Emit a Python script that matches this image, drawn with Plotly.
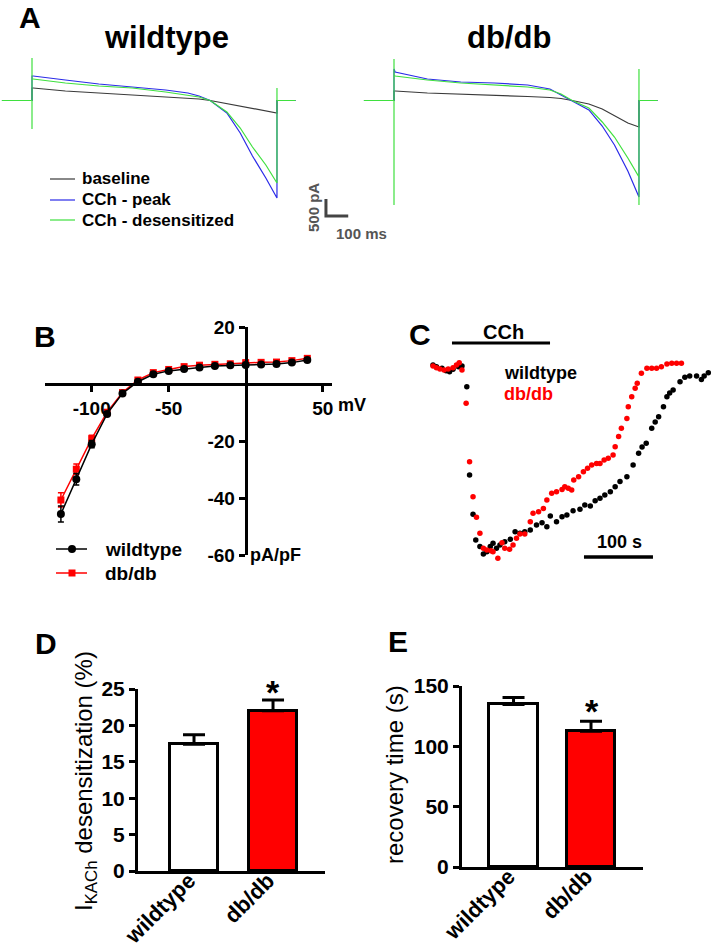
import plotly.graph_objects as go

W, H = 712, 948
FONT = "Arial, Liberation Sans, sans-serif"

# ---------------- Panel A: current traces (ms, pA) ----------------
t_ramp_ms = [0, 5, 150, 300, 450, 600, 700, 750, 800, 875, 935, 990, 1050, 1100]
wt_baseline = [368, 368, 279, 221, 162, 103, 74, 44, 0, -88, -162, -235, -309, -368]
wt_peak = [720, 720, 603, 485, 397, 309, 221, 132, 0, -368, -956, -1632, -2279, -2868]
wt_desens = [632, 632, 515, 426, 368, 250, 162, 103, 0, -338, -809, -1368, -1897, -2426]
db_baseline = [279, 279, 221, 191, 162, 118, 88, 59, 0, -103, -250, -456, -662, -779]
db_peak = [926, 838, 632, 544, 515, 456, 338, 162, 0, -279, -750, -1309, -2074, -2838]
db_desens = [750, 720, 603, 515, 456, 397, 309, 191, 0, -221, -632, -1074, -1691, -2250]
hold_pre_ms = -135
hold_post_ms = 1183
wt_on_spike = [1250, -838]
wt_off_spike = [368]
db_on_spike = [1220, -3074]
db_off_spike = [-3074, 926]
scale_ms = 100
scale_pA = 500

# ---------------- Panel B: I-V (mV, pA/pF) ----------------
V_mV = [-120, -110, -100, -90, -80, -70, -60, -50, -40, -30, -20, -10, 0, 10, 20, 30, 40]
iv_wt = [-45.6, -33.4, -21.1, -10.5, -3.3, 0.8, 3.4, 4.6, 5.3, 5.8, 6.3, 6.6, 6.7, 6.8, 7.0, 7.5, 8.4]
iv_wt_err = [2.8, 2.0, 1.3, 0.8, 0.5, 0.4, 0.4, 0.4, 0.4, 0.4, 0.4, 0.4, 0.4, 0.4, 0.4, 0.4, 0.5]
iv_db = [-40.7, -29.9, -19.2, -9.9, -3.0, 1.4, 4.0, 5.1, 6.1, 6.6, 6.9, 7.1, 7.5, 7.6, 7.7, 8.2, 9.0]
iv_db_err = [2.5, 1.8, 1.2, 0.8, 0.5, 0.5, 0.5, 0.5, 0.5, 0.5, 0.5, 0.5, 0.5, 0.5, 0.5, 0.5, 0.5]

# ---------------- Panel C: time course (s, normalized current) ----------------
c_wt_t = [0, 5, 13, 19, 24, 29, 37, 42, 49, 53, 58, 62, 68, 73, 78, 83, 87, 92, 97, 104,
          112, 119, 126, 133, 141, 150, 158, 165, 170, 179, 187, 194, 203, 213, 220, 228,
          235, 242, 249, 257, 264, 271, 281, 290, 298, 303, 309, 317, 322, 327, 334, 339,
          343, 348, 358, 365, 372, 382, 389, 393, 399]
c_wt_v = [0.005, -0.004, -0.012, -0.024, -0.029, -0.017, -0.004, 0.0, -0.107, -0.562,
          -0.764, -0.897, -0.931, -0.969, -0.957, -0.931, -0.914, -0.940, -0.923, -0.906,
          -0.893, -0.854, -0.862, -0.854, -0.845, -0.820, -0.808, -0.828, -0.773, -0.803,
          -0.777, -0.768, -0.746, -0.739, -0.716, -0.722, -0.694, -0.682, -0.665, -0.648,
          -0.622, -0.596, -0.571, -0.510, -0.450, -0.418, -0.398, -0.321, -0.289, -0.261,
          -0.210, -0.158, -0.139, -0.124, -0.081, -0.058, -0.052, -0.052, -0.069, -0.052,
          -0.035]
c_db_t = [0, 5, 10, 16, 22, 29, 34, 38, 42, 48, 53, 58, 63, 68, 73, 78, 84, 87, 94, 100,
          104, 111, 116, 121, 126, 133, 141, 145, 153, 160, 165, 172, 179, 187, 191, 196,
          201, 204, 211, 218, 224, 230, 237, 242, 248, 254, 261, 264, 269, 273, 281, 283,
          288, 293, 296, 302, 310, 317, 324, 331, 339, 346, 353, 360]
c_db_v = [0.0, -0.009, -0.015, -0.021, -0.015, -0.009, 0.005, 0.017, -0.021, -0.192,
          -0.493, -0.674, -0.780, -0.862, -0.940, -0.948, -0.952, -0.957, -0.991, -0.911,
          -0.940, -0.945, -0.923, -0.888, -0.866, -0.866, -0.803, -0.759, -0.751, -0.734,
          -0.691, -0.656, -0.648, -0.636, -0.622, -0.630, -0.639, -0.588, -0.571, -0.545,
          -0.527, -0.510, -0.502, -0.502, -0.485, -0.476, -0.459, -0.416, -0.364, -0.321,
          -0.270, -0.210, -0.158, -0.115, -0.089, -0.038, -0.012, -0.012, -0.012, -0.004,
          0.010, 0.014, 0.014, 0.014]
cch_on_s = [27.5, 169.6]
scale_s = 100

# ---------------- Panels D, E: bars ----------------
groups = ["wildtype", "db/db"]
desens_pct = [17.4, 22.0]
desens_err = [1.3, 1.5]
recovery_s = [134.7, 112.4]
recovery_err = [5.8, 8.3]


def dx(a, b):
    return [a / W, b / W]


def dy(top, bottom):
    return [1 - bottom / H, 1 - top / H]


def ann(text, x, y, size, bold=True, color="black", xanchor="center",
        yanchor="middle", angle=0):
    return dict(text=f"<b>{text}</b>" if bold else text, x=x / W, y=1 - y / H,
                xref="paper", yref="paper", showarrow=False,
                font=dict(size=size, color=color, family=FONT),
                xanchor=xanchor, yanchor=yanchor, textangle=angle)


fig = go.Figure()

BLACK_TR = "#3a3a3a"
BLUE_TR = "#2b2be8"
GREEN_TR = "#3fe03f"


def trace_path(vals, on=None, off=None):
    xs = [hold_pre_ms, 0]
    ys = [0, 0]
    if on:
        xs += [0] * len(on)
        ys += list(on)
    xs += t_ramp_ms
    ys += vals
    end = t_ramp_ms[-1]
    if off:
        xs += [end] * len(off)
        ys += list(off)
    xs += [end, hold_post_ms]
    ys += [0, 0]
    return xs, ys


for ax, (b, p, d, on, off) in zip(
        ["", "2"],
        [(wt_baseline, wt_peak, wt_desens, wt_on_spike, wt_off_spike),
         (db_baseline, db_peak, db_desens, db_on_spike, db_off_spike)]):
    for vals, col, sp in [(b, BLACK_TR, False), (p, BLUE_TR, False), (d, GREEN_TR, True)]:
        xs, ys = trace_path(vals, on if sp else None, off if sp else None)
        fig.add_trace(go.Scatter(x=xs, y=ys, mode="lines", line=dict(color=col, width=1.2),
                                 xaxis="x" + ax, yaxis="y" + ax, hoverinfo="skip"))

# scale bar for A (in left axes)
sb_x0, sb_y0 = 1320, -3397
fig.add_trace(go.Scatter(x=[sb_x0, sb_x0, sb_x0 + scale_ms],
                         y=[sb_y0 + scale_pA, sb_y0, sb_y0], mode="lines",
                         line=dict(color="#444444", width=3), xaxis="x", yaxis="y"))

# A axes: 0.2227 px/ms ; 0.034 px/pA
for k, (left, step) in {"": (0, 32), "2": (356, 394)}.items():
    x0 = -(step - left) / 0.2227
    fig.layout["xaxis" + k] = dict(domain=dx(left, left + 356), range=[x0, x0 + 356 / 0.2227],
                                   visible=False, anchor="y" + k, automargin=False)
    fig.layout["yaxis" + k] = dict(domain=dy(50, 245),
                                   range=[(100.5 - 245) / 0.034, (100.5 - 50) / 0.034],
                                   visible=False, anchor="x" + k, automargin=False)

# ---------------- Panel B ----------------
fig.add_trace(go.Scatter(x=V_mV, y=iv_db, mode="lines+markers",
                         line=dict(color="#ff0000", width=1.5),
                         marker=dict(symbol="square", size=7, color="#ff0000"),
                         error_y=dict(type="data", array=iv_db_err, color="#ff0000",
                                      thickness=1.5, width=3),
                         xaxis="x3", yaxis="y3"))
fig.add_trace(go.Scatter(x=V_mV, y=iv_wt, mode="lines+markers",
                         line=dict(color="black", width=1.5),
                         marker=dict(symbol="circle", size=8, color="black"),
                         error_y=dict(type="data", array=iv_wt_err, color="black",
                                      thickness=1.5, width=3),
                         xaxis="x3", yaxis="y3"))
tickfontB = dict(family=FONT, size=19, color="black", weight="bold")
fig.layout.xaxis3 = dict(domain=dx(45, 332), range=[(45 - 245.7) / 1.54, (332 - 245.7) / 1.54],
                         anchor="free", position=1 - 384 / H, showline=True, linewidth=3,
                         linecolor="black", showgrid=False, zeroline=False,
                         ticks="outside", ticklen=6, tickwidth=3, tickcolor="black",
                         tickvals=[-100, -50, 50], ticktext=["-100", "-50", "50"],
                         tickfont=tickfontB, automargin=False)
fig.layout.yaxis3 = dict(domain=dy(327, 555), range=[-60, 20], anchor="free",
                         position=245.7 / W, showline=True, linewidth=3, linecolor="black",
                         showgrid=False, zeroline=False, ticks="outside", ticklen=6,
                         tickwidth=3, tickcolor="black", tickvals=[20, -20, -40, -60],
                         ticktext=["20", "-20", "-40", "-60"], tickfont=tickfontB,
                         automargin=False)

# ---------------- Panel C ----------------
fig.add_trace(go.Scatter(x=c_wt_t, y=c_wt_v, mode="markers",
                         marker=dict(color="black", size=5.5), xaxis="x4", yaxis="y4"))
fig.add_trace(go.Scatter(x=c_db_t, y=c_db_v, mode="markers",
                         marker=dict(color="#ff0000", size=5.5), xaxis="x4", yaxis="y4"))
fig.add_trace(go.Scatter(x=cch_on_s, y=[0.1186, 0.1186], mode="lines",
                         line=dict(color="black", width=3), xaxis="x4", yaxis="y4"))
fig.add_trace(go.Scatter(x=[218.8, 218.8 + scale_s], y=[-0.985, -0.985], mode="lines",
                         line=dict(color="black", width=3.5), xaxis="x4", yaxis="y4"))
fig.layout.xaxis4 = dict(domain=dx(420, 712), range=[(420 - 433) / 0.69, (712 - 433) / 0.69],
                         visible=False, anchor="y4", automargin=False)
fig.layout.yaxis4 = dict(domain=dy(320, 600), range=[(366 - 600) / 194, (366 - 320) / 194],
                         visible=False, anchor="x4", automargin=False)

# ---------------- Panels D, E ----------------
tickfontY = dict(family=FONT, size=21, color="black", weight="bold")
tickfontX = dict(family=FONT, size=22, color="black", weight="bold")
for k, vals, errs, xr, wid, dxr, dyr, yr, tv in [
        ("5", desens_pct, desens_err, [-0.709, 1.658], 0.608, (138, 325), (689, 871),
         [0, 25], [0, 5, 10, 15, 20, 25]),
        ("6", recovery_s, recovery_err, [-0.665, 1.671], 0.626, (462, 643), (686, 867),
         [0, 150], [0, 50, 100, 150])]:
    fig.add_trace(go.Bar(x=groups, y=vals, width=wid,
                         marker=dict(color=["white", "#ff0000"],
                                     line=dict(color="black", width=3)),
                         error_y=dict(type="data", symmetric=False, array=errs,
                                      arrayminus=[0, 0], color="black", thickness=3, width=11),
                         xaxis="x" + k, yaxis="y" + k))
    fig.layout["xaxis" + k] = dict(domain=dx(*dxr), range=xr, anchor="y" + k, type="category",
                                   showline=True, linewidth=3, linecolor="black",
                                   ticks="", tickangle=-45, tickfont=tickfontX,
                                   ticklabelstandoff=-15, ticklabelshift=-5,
                                   showgrid=False, zeroline=False, automargin=False)
    fig.layout["yaxis" + k] = dict(domain=dy(*dyr), range=yr, anchor="x" + k,
                                   showline=True, linewidth=3, linecolor="black",
                                   ticks="outside", ticklen=6, tickwidth=3, tickcolor="black",
                                   tickvals=tv, tickfont=tickfontY, showgrid=False,
                                   zeroline=False, automargin=False)

# ---------------- shapes (legend glyphs) ----------------
shapes = []


def hline(x0, x1, y, color, width):
    shapes.append(dict(type="line", xref="paper", yref="paper", x0=x0 / W, x1=x1 / W,
                       y0=1 - y / H, y1=1 - y / H, line=dict(color=color, width=width)))


hline(50, 75, 179, BLACK_TR, 1.2)
hline(50, 75, 200, BLUE_TR, 1.2)
hline(50, 75, 220, GREEN_TR, 1.2)
hline(56, 87, 549, "black", 1.5)
hline(56, 87, 573, "#ff0000", 1.5)
shapes.append(dict(type="circle", xref="paper", yref="paper", x0=68 / W, x1=76 / W,
                   y0=1 - 553 / H, y1=1 - 545 / H, fillcolor="black", line=dict(width=0)))
shapes.append(dict(type="rect", xref="paper", yref="paper", x0=68.5 / W, x1=75.5 / W,
                   y0=1 - 576.5 / H, y1=1 - 569.5 / H, fillcolor="#ff0000", line=dict(width=0)))

annotations = [
    ann("A", 30, 18, 30),
    ann("wildtype", 166, 38, 31),
    ann("db/db", 509, 38, 31),
    ann("baseline", 80, 179, 17, xanchor="left"),
    ann("CCh - peak", 80, 200, 17, xanchor="left"),
    ann("CCh - desensitized", 80, 220, 17, xanchor="left"),
    ann("500 pA", 313, 208, 15, color="#555555", angle=-90),
    ann("100 ms", 334, 233, 15, color="#555555", xanchor="left"),
    ann("B", 45, 336, 30),
    ann("mV", 336, 405, 18, xanchor="left"),
    ann("pA/pF", 248, 555, 18, xanchor="left"),
    ann("wildtype", 103, 549, 19, xanchor="left"),
    ann("db/db", 103, 573, 19, xanchor="left"),
    ann("C", 420, 334, 30),
    ann("CCh", 504, 332, 20),
    ann("wildtype", 502, 373, 18, xanchor="left"),
    ann("db/db", 502, 394, 18, color="#ff0000", xanchor="left"),
    ann("100 s", 619, 542, 18),
    ann("D", 46, 643, 30),
    ann("E", 398, 641, 30),
    ann("*", 273, 692, 34),
    ann("*", 592, 711, 34),
    ann("I<sub>KACh</sub> desensitization (%)", 85, 781, 24, bold=False, angle=-90),
    ann("recovery time (s)", 394, 775, 24, bold=False, angle=-90),
]

fig.update_layout(width=W, height=H, margin=dict(l=0, r=0, t=0, b=0, pad=0, autoexpand=False),
                  paper_bgcolor="white", plot_bgcolor="white", showlegend=False,
                  font=dict(family=FONT, color="black"), shapes=shapes,
                  annotations=annotations, bargap=0)

fig.write_html("out.html", config={"displayModeBar": False},
               post_script="document.body.style.margin='0';")
